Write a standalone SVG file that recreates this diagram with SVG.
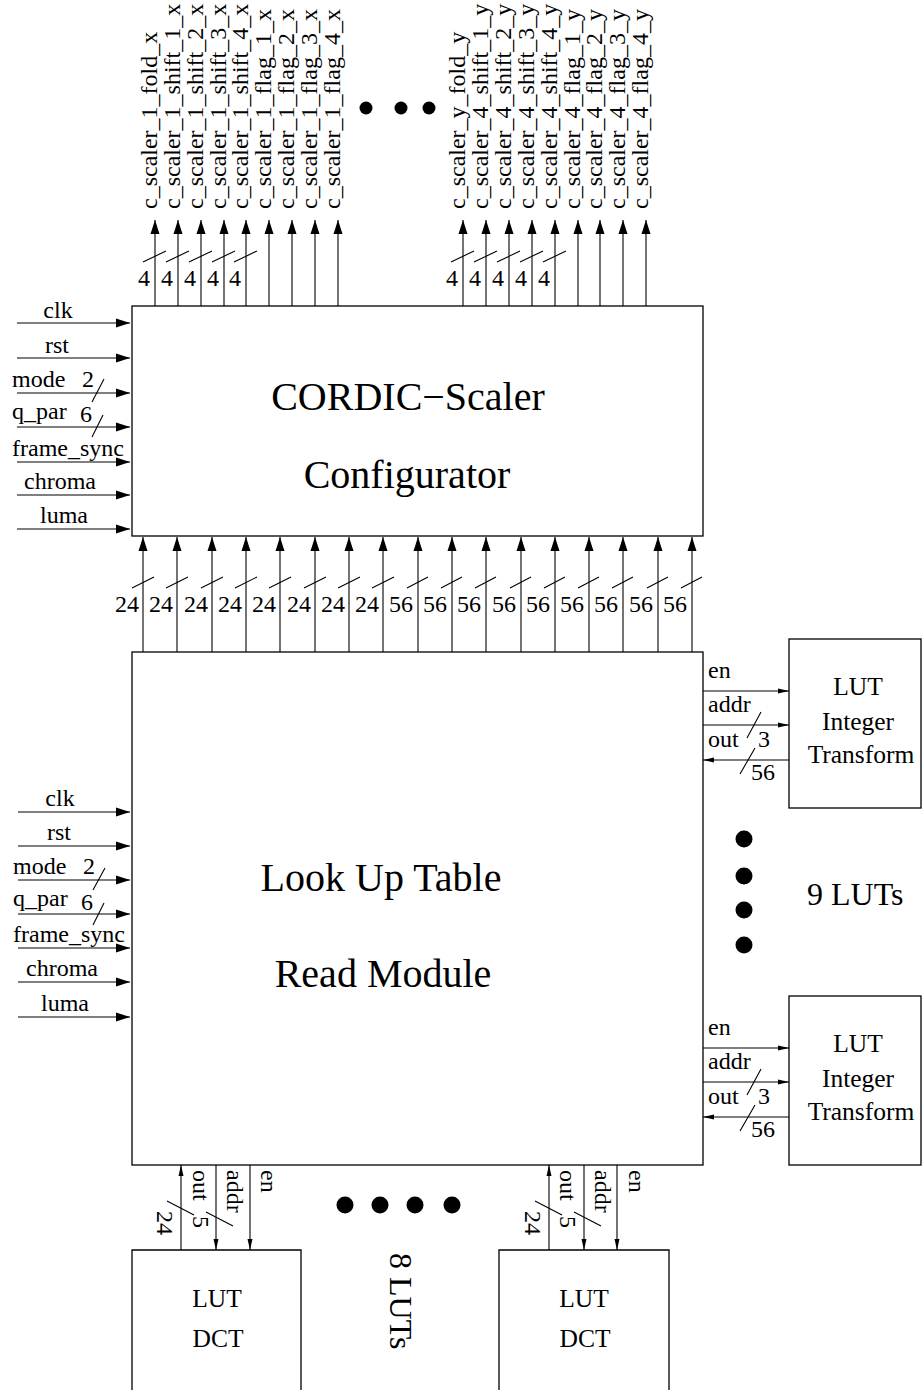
<svg xmlns="http://www.w3.org/2000/svg" width="922" height="1390" viewBox="0 0 922 1390">
<defs>
<marker id="big" markerUnits="userSpaceOnUse" markerWidth="15" markerHeight="10" refX="14" refY="5" orient="auto"><path d="M0,0.5 L14,5 L0,9.5 z" fill="#000"/></marker>
<marker id="sm" markerUnits="userSpaceOnUse" markerWidth="12" markerHeight="7" refX="11" refY="3.5" orient="auto"><path d="M0,1 L11,3.5 L0,6 z" fill="#000"/></marker>
</defs>
<style>
text{font-family:"Liberation Serif","Times New Roman",serif;fill:#000}
.s{font-size:24px}
.m{font-size:25.5px}
.t{font-size:40px}
.n{font-size:32px}
.box{fill:none;stroke:#000;stroke-width:1.3}
.w{stroke:#000;stroke-width:1.1;fill:none}
.a{stroke:#000;stroke-width:1.1;fill:none;marker-end:url(#big)}
.as{stroke:#000;stroke-width:1.1;fill:none;marker-end:url(#sm)}
.c{text-anchor:middle}
.e{text-anchor:end}
</style>

<g id="cordic">
<rect class="box" x="132" y="306" width="571" height="230"/>
<text class="t c" x="408" y="410">CORDIC−Scaler</text>
<text class="t c" x="407" y="488">Configurator</text>
</g>

<g id="lutread">
<rect class="box" x="132" y="652" width="571" height="513"/>
<text class="t c" x="381" y="891">Look Up Table</text>
<text class="t c" x="383" y="987">Read Module</text>
</g>

<g id="lut_int_1">
<rect class="box" x="789" y="639" width="132" height="169"/>
<text class="m c" x="858" y="695">LUT</text>
<text class="m c" x="858" y="730">Integer</text>
<text class="m c" x="861" y="763">Transform</text>
</g>

<g id="lut_int_2">
<rect class="box" x="789" y="996" width="132" height="169"/>
<text class="m c" x="858" y="1052">LUT</text>
<text class="m c" x="858" y="1087">Integer</text>
<text class="m c" x="861" y="1120">Transform</text>
</g>

<g id="lut_dct_1">
<path class="box" d="M132,1392 V1250 H301 V1392"/>
<text class="m c" x="217" y="1307">LUT</text>
<text class="m c" x="218" y="1347">DCT</text>
</g>

<g id="lut_dct_2">
<path class="box" d="M499,1392 V1250 H669 V1392"/>
<text class="m c" x="584" y="1307">LUT</text>
<text class="m c" x="585" y="1347">DCT</text>
</g>

<g id="annotations">
<circle cx="366" cy="108" r="6.5"/>
<circle cx="401" cy="108" r="6.5"/>
<circle cx="429" cy="108" r="6.5"/>
<circle cx="744" cy="839" r="8.5"/>
<circle cx="744" cy="876" r="8.5"/>
<circle cx="744" cy="910" r="8.5"/>
<circle cx="744" cy="945" r="8.5"/>
<text class="n" x="807" y="905">9 LUTs</text>
<circle cx="345" cy="1205" r="8.5"/>
<circle cx="380" cy="1205" r="8.5"/>
<circle cx="415" cy="1205" r="8.5"/>
<circle cx="452" cy="1205" r="8.5"/>
<text class="n" transform="translate(390,1253) rotate(90)">8 LUTs</text>
</g>

<g id="connectors">
<!-- top outputs -->
<line class="a" x1="155" y1="306" x2="155" y2="220"/>
<line class="a" x1="178" y1="306" x2="178" y2="220"/>
<line class="a" x1="201" y1="306" x2="201" y2="220"/>
<line class="a" x1="224" y1="306" x2="224" y2="220"/>
<line class="a" x1="246" y1="306" x2="246" y2="220"/>
<line class="a" x1="269" y1="306" x2="269" y2="220"/>
<line class="a" x1="292" y1="306" x2="292" y2="220"/>
<line class="a" x1="315" y1="306" x2="315" y2="220"/>
<line class="a" x1="338" y1="306" x2="338" y2="220"/>
<line class="a" x1="463" y1="306" x2="463" y2="220"/>
<line class="a" x1="486" y1="306" x2="486" y2="220"/>
<line class="a" x1="509" y1="306" x2="509" y2="220"/>
<line class="a" x1="532" y1="306" x2="532" y2="220"/>
<line class="a" x1="555" y1="306" x2="555" y2="220"/>
<line class="a" x1="578" y1="306" x2="578" y2="220"/>
<line class="a" x1="600" y1="306" x2="600" y2="220"/>
<line class="a" x1="623" y1="306" x2="623" y2="220"/>
<line class="a" x1="646" y1="306" x2="646" y2="220"/>
<path class="w" d="M143,262 L166,251 M166,262 L189,251 M189,262 L212,251 M212,262 L235,251 M234,262 L257,251 M451,262 L474,251 M474,262 L497,251 M497,262 L520,251 M520,262 L543,251 M543,262 L566,251"/>
<text class="s e" x="150" y="286">4</text>
<text class="s e" x="173" y="286">4</text>
<text class="s e" x="196" y="286">4</text>
<text class="s e" x="219" y="286">4</text>
<text class="s e" x="241" y="286">4</text>
<text class="s e" x="458" y="286">4</text>
<text class="s e" x="481" y="286">4</text>
<text class="s e" x="504" y="286">4</text>
<text class="s e" x="527" y="286">4</text>
<text class="s e" x="550" y="286">4</text>
<text class="s" transform="translate(157,209) rotate(-90)">c_scaler_1_fold_x</text>
<text class="s" transform="translate(180,209) rotate(-90)">c_scaler_1_shift_1_x</text>
<text class="s" transform="translate(203,209) rotate(-90)">c_scaler_1_shift_2_x</text>
<text class="s" transform="translate(226,209) rotate(-90)">c_scaler_1_shift_3_x</text>
<text class="s" transform="translate(248,209) rotate(-90)">c_scaler_1_shift_4_x</text>
<text class="s" transform="translate(271,209) rotate(-90)">c_scaler_1_flag_1_x</text>
<text class="s" transform="translate(294,209) rotate(-90)">c_scaler_1_flag_2_x</text>
<text class="s" transform="translate(317,209) rotate(-90)">c_scaler_1_flag_3_x</text>
<text class="s" transform="translate(340,209) rotate(-90)">c_scaler_1_flag_4_x</text>
<text class="s" transform="translate(465,209) rotate(-90)">c_scaler_y_fold_y</text>
<text class="s" transform="translate(488,209) rotate(-90)">c_scaler_4_shift_1_y</text>
<text class="s" transform="translate(511,209) rotate(-90)">c_scaler_4_shift_2_y</text>
<text class="s" transform="translate(534,209) rotate(-90)">c_scaler_4_shift_3_y</text>
<text class="s" transform="translate(557,209) rotate(-90)">c_scaler_4_shift_4_y</text>
<text class="s" transform="translate(580,209) rotate(-90)">c_scaler_4_flag_1_y</text>
<text class="s" transform="translate(602,209) rotate(-90)">c_scaler_4_flag_2_y</text>
<text class="s" transform="translate(625,209) rotate(-90)">c_scaler_4_flag_3_y</text>
<text class="s" transform="translate(648,209) rotate(-90)">c_scaler_4_flag_4_y</text>

<!-- left inputs top box -->
<line class="a" x1="17" y1="323" x2="130" y2="323"/>
<line class="a" x1="17" y1="358" x2="130" y2="358"/>
<line class="a" x1="17" y1="393" x2="130" y2="393"/>
<line class="a" x1="17" y1="427" x2="130" y2="427"/>
<line class="a" x1="17" y1="462" x2="130" y2="462"/>
<line class="a" x1="17" y1="495" x2="130" y2="495"/>
<line class="a" x1="17" y1="529" x2="130" y2="529"/>
<path class="w" d="M92,402 L104,379 M92,437 L103,415"/>
<text class="s c" x="58" y="318">clk</text>
<text class="s c" x="57" y="353">rst</text>
<text class="s" x="12" y="387">mode</text>
<text class="s" x="82" y="387">2</text>
<text class="s" x="12" y="419">q_par</text>
<text class="s" x="80" y="422">6</text>
<text class="s" x="12" y="456">frame_sync</text>
<text class="s c" x="60" y="489">chroma</text>
<text class="s c" x="64" y="523">luma</text>

<!-- left inputs bottom box -->
<line class="a" x1="18" y1="812" x2="130" y2="812"/>
<line class="a" x1="18" y1="846" x2="130" y2="846"/>
<line class="a" x1="18" y1="880" x2="130" y2="880"/>
<line class="a" x1="18" y1="914" x2="130" y2="914"/>
<line class="a" x1="18" y1="948" x2="130" y2="948"/>
<line class="a" x1="18" y1="982" x2="130" y2="982"/>
<line class="a" x1="18" y1="1017" x2="130" y2="1017"/>
<path class="w" d="M93,890 L105,868 M93,925 L104,903"/>
<text class="s c" x="60" y="806">clk</text>
<text class="s c" x="59" y="840">rst</text>
<text class="s" x="13" y="874">mode</text>
<text class="s" x="83" y="874">2</text>
<text class="s" x="13" y="906">q_par</text>
<text class="s" x="81" y="910">6</text>
<text class="s" x="13" y="942">frame_sync</text>
<text class="s c" x="62" y="976">chroma</text>
<text class="s c" x="65" y="1011">luma</text>

<!-- bus between boxes -->
<line class="a" x1="143" y1="652" x2="143" y2="537"/>
<line class="a" x1="177" y1="652" x2="177" y2="537"/>
<line class="a" x1="212" y1="652" x2="212" y2="537"/>
<line class="a" x1="246" y1="652" x2="246" y2="537"/>
<line class="a" x1="280" y1="652" x2="280" y2="537"/>
<line class="a" x1="315" y1="652" x2="315" y2="537"/>
<line class="a" x1="349" y1="652" x2="349" y2="537"/>
<line class="a" x1="383" y1="652" x2="383" y2="537"/>
<line class="a" x1="418" y1="652" x2="418" y2="537"/>
<line class="a" x1="452" y1="652" x2="452" y2="537"/>
<line class="a" x1="486" y1="652" x2="486" y2="537"/>
<line class="a" x1="521" y1="652" x2="521" y2="537"/>
<line class="a" x1="555" y1="652" x2="555" y2="537"/>
<line class="a" x1="589" y1="652" x2="589" y2="537"/>
<line class="a" x1="623" y1="652" x2="623" y2="537"/>
<line class="a" x1="658" y1="652" x2="658" y2="537"/>
<line class="a" x1="692" y1="652" x2="692" y2="537"/>
<path class="w" d="M132,588 L154,577 M166,588 L188,577 M201,588 L223,577 M235,588 L257,577 M269,588 L291,577 M304,588 L326,577 M338,588 L360,577 M372,588 L394,577 M407,588 L428,577 M441,588 L462,577 M475,588 L496,577 M510,588 L531,577 M544,588 L565,577 M578,588 L599,577 M612,588 L633,577 M647,588 L668,577 M681,588 L702,577"/>
<text class="s e" x="139" y="612">24</text>
<text class="s e" x="173" y="612">24</text>
<text class="s e" x="208" y="612">24</text>
<text class="s e" x="242" y="612">24</text>
<text class="s e" x="276" y="612">24</text>
<text class="s e" x="311" y="612">24</text>
<text class="s e" x="345" y="612">24</text>
<text class="s e" x="379" y="612">24</text>
<text class="s e" x="413" y="612">56</text>
<text class="s e" x="447" y="612">56</text>
<text class="s e" x="481" y="612">56</text>
<text class="s e" x="516" y="612">56</text>
<text class="s e" x="550" y="612">56</text>
<text class="s e" x="584" y="612">56</text>
<text class="s e" x="618" y="612">56</text>
<text class="s e" x="653" y="612">56</text>
<text class="s e" x="687" y="612">56</text>

<!-- right LUT 1 -->
<line class="as" x1="703" y1="691" x2="789" y2="691"/>
<line class="as" x1="703" y1="725" x2="789" y2="725"/>
<line class="as" x1="789" y1="760" x2="703" y2="760"/>
<path class="w" d="M747,738 L761,712 M740,774 L755,748"/>
<text class="s" x="708" y="678">en</text>
<text class="s" x="708" y="712">addr</text>
<text class="s" x="708" y="747">out</text>
<text class="s" x="758" y="747">3</text>
<text class="s" x="751" y="780">56</text>

<!-- right LUT 2 -->
<line class="as" x1="703" y1="1048" x2="789" y2="1048"/>
<line class="as" x1="703" y1="1082" x2="789" y2="1082"/>
<line class="as" x1="789" y1="1117" x2="703" y2="1117"/>
<path class="w" d="M747,1095 L761,1069 M740,1131 L755,1105"/>
<text class="s" x="708" y="1035">en</text>
<text class="s" x="708" y="1069">addr</text>
<text class="s" x="708" y="1104">out</text>
<text class="s" x="758" y="1104">3</text>
<text class="s" x="751" y="1137">56</text>

<!-- bottom DCT 1 -->
<line class="as" x1="181" y1="1250" x2="181" y2="1165"/>
<line class="as" x1="216" y1="1165" x2="216" y2="1250"/>
<line class="as" x1="250" y1="1165" x2="250" y2="1250"/>
<path class="w" d="M167,1201 L194,1215 M206,1212 L233,1226"/>
<text class="s" transform="translate(193,1170) rotate(90)">out</text>
<text class="s" transform="translate(227,1170) rotate(90)">addr</text>
<text class="s" transform="translate(261,1170) rotate(90)">en</text>
<text class="s" transform="translate(157,1211) rotate(90)">24</text>
<text class="s" transform="translate(193,1216) rotate(90)">5</text>

<!-- bottom DCT 2 -->
<line class="as" x1="549" y1="1250" x2="549" y2="1165"/>
<line class="as" x1="584" y1="1165" x2="584" y2="1250"/>
<line class="as" x1="617" y1="1165" x2="617" y2="1250"/>
<path class="w" d="M535,1201 L562,1215 M574,1212 L601,1226"/>
<text class="s" transform="translate(560,1170) rotate(90)">out</text>
<text class="s" transform="translate(595,1170) rotate(90)">addr</text>
<text class="s" transform="translate(629,1170) rotate(90)">en</text>
<text class="s" transform="translate(525,1211) rotate(90)">24</text>
<text class="s" transform="translate(560,1216) rotate(90)">5</text>
</g>
</svg>
